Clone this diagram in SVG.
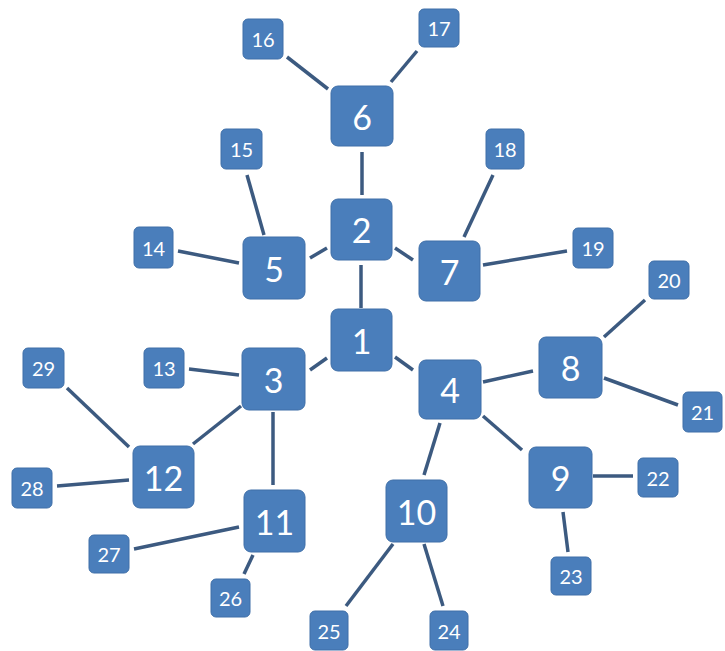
<svg xmlns="http://www.w3.org/2000/svg" width="725" height="651" viewBox="0 0 725 651">
<style>
.b{fill:#4a7ebb;stroke:#3f6fa8;stroke-width:1}
.s{fill:#4a7ebb;stroke:#3f6fa8;stroke-width:1}
.tb{font-family:Lato,"Open Sans","Liberation Sans",sans-serif;font-size:34px;fill:#fff;text-anchor:middle;dominant-baseline:central}
.ts{font-family:Lato,"Open Sans","Liberation Sans",sans-serif;font-size:20px;fill:#fff;text-anchor:middle;dominant-baseline:central}
#edges line{stroke:#3c5a80;stroke-width:3.5;stroke-linecap:butt}
</style>
<rect width="725" height="651" fill="#fff"/>
<g id="edges">
<line x1="287" y1="57" x2="328" y2="89"/>
<line x1="417" y1="51" x2="391" y2="82"/>
<line x1="362" y1="152" x2="362" y2="195"/>
<line x1="361" y1="265" x2="361" y2="308"/>
<line x1="247" y1="175" x2="264" y2="235"/>
<line x1="178" y1="251" x2="239" y2="263"/>
<line x1="310" y1="258" x2="327" y2="248"/>
<line x1="395" y1="248" x2="413" y2="260"/>
<line x1="493" y1="175" x2="464" y2="237"/>
<line x1="567" y1="251" x2="483" y2="265"/>
<line x1="189" y1="369" x2="239" y2="375"/>
<line x1="67" y1="388" x2="129" y2="447"/>
<line x1="241" y1="406" x2="193" y2="444"/>
<line x1="273" y1="412" x2="273" y2="485"/>
<line x1="57" y1="486" x2="129" y2="480"/>
<line x1="310" y1="370" x2="327" y2="358"/>
<line x1="395" y1="357" x2="413" y2="370"/>
<line x1="483" y1="382" x2="533" y2="371"/>
<line x1="604" y1="337" x2="645" y2="300"/>
<line x1="604" y1="378" x2="678" y2="405"/>
<line x1="483" y1="416" x2="522" y2="450"/>
<line x1="593" y1="476" x2="633" y2="476"/>
<line x1="440" y1="423" x2="424" y2="475"/>
<line x1="134" y1="549" x2="239" y2="527"/>
<line x1="253" y1="555" x2="244" y2="574"/>
<line x1="393" y1="544" x2="346" y2="606"/>
<line x1="424" y1="544" x2="443" y2="606"/>
<line x1="563" y1="512" x2="568" y2="552"/>
</g>
<g id="n1"><rect class="b" x="331" y="309" width="61" height="62" rx="7"/><text class="tb" x="361.5" y="340">1</text></g>
<g id="n2"><rect class="b" x="331" y="199" width="61" height="61" rx="7"/><text class="tb" x="361.5" y="229.5">2</text></g>
<g id="n3"><rect class="b" x="242" y="348" width="63" height="62" rx="7"/><text class="tb" x="273.5" y="379">3</text></g>
<g id="n4"><rect class="b" x="419" y="360" width="62" height="59" rx="7"/><text class="tb" x="450" y="389.5">4</text></g>
<g id="n5"><rect class="b" x="243" y="237" width="62" height="62" rx="7"/><text class="tb" x="274" y="268">5</text></g>
<g id="n6"><rect class="b" x="331" y="86" width="62" height="60" rx="7"/><text class="tb" x="362" y="116">6</text></g>
<g id="n7"><rect class="b" x="419" y="241" width="61" height="60" rx="7"/><text class="tb" x="449.5" y="271">7</text></g>
<g id="n8"><rect class="b" x="539" y="337" width="63" height="61" rx="7"/><text class="tb" x="570.5" y="367.5">8</text></g>
<g id="n9"><rect class="b" x="529" y="447" width="63" height="61" rx="7"/><text class="tb" x="560.5" y="477.5">9</text></g>
<g id="n10"><rect class="b" x="386" y="480" width="61" height="62" rx="7"/><text class="tb" x="416.5" y="511">10</text></g>
<g id="n11"><rect class="b" x="244" y="490" width="61" height="62" rx="7"/><text class="tb" x="274.5" y="521">11</text></g>
<g id="n12"><rect class="b" x="133" y="446" width="61" height="62" rx="7"/><text class="tb" x="163.5" y="477">12</text></g>
<g id="n13"><rect class="s" x="144" y="348" width="40" height="40" rx="5"/><text class="ts" x="164" y="368">13</text></g>
<g id="n14"><rect class="s" x="134" y="227" width="39" height="41" rx="5"/><text class="ts" x="153.5" y="247.5">14</text></g>
<g id="n15"><rect class="s" x="221" y="129" width="41" height="40" rx="5"/><text class="ts" x="241.5" y="149">15</text></g>
<g id="n16"><rect class="s" x="243" y="19" width="40" height="40" rx="5"/><text class="ts" x="263" y="39">16</text></g>
<g id="n17"><rect class="s" x="419" y="9" width="40" height="38" rx="5"/><text class="ts" x="439" y="28">17</text></g>
<g id="n18"><rect class="s" x="486" y="129" width="38" height="40" rx="5"/><text class="ts" x="505" y="149">18</text></g>
<g id="n19"><rect class="s" x="573" y="228" width="40" height="40" rx="5"/><text class="ts" x="593" y="248">19</text></g>
<g id="n20"><rect class="s" x="649" y="261" width="40" height="38" rx="5"/><text class="ts" x="669" y="280">20</text></g>
<g id="n21"><rect class="s" x="683" y="392" width="39" height="40" rx="5"/><text class="ts" x="702.5" y="412">21</text></g>
<g id="n22"><rect class="s" x="638" y="458" width="40" height="39" rx="5"/><text class="ts" x="658" y="477.5">22</text></g>
<g id="n23"><rect class="s" x="551" y="557" width="40" height="38" rx="5"/><text class="ts" x="571" y="576">23</text></g>
<g id="n24"><rect class="s" x="430" y="611" width="38" height="39" rx="5"/><text class="ts" x="449" y="630.5">24</text></g>
<g id="n25"><rect class="s" x="310" y="611" width="38" height="39" rx="5"/><text class="ts" x="329" y="630.5">25</text></g>
<g id="n26"><rect class="s" x="211" y="579" width="39" height="38" rx="5"/><text class="ts" x="230.5" y="598">26</text></g>
<g id="n27"><rect class="s" x="89" y="535" width="40" height="38" rx="5"/><text class="ts" x="109" y="554">27</text></g>
<g id="n28"><rect class="s" x="12" y="468" width="40" height="40" rx="5"/><text class="ts" x="32" y="488">28</text></g>
<g id="n29"><rect class="s" x="23" y="348" width="41" height="40" rx="5"/><text class="ts" x="43.5" y="368">29</text></g>
</svg>
